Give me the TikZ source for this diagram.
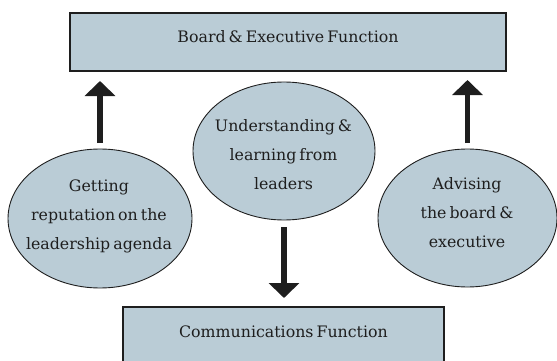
\documentclass[tikz,border=0pt]{standalone}
\usepackage{fontspec}
\setmainfont{DejaVu Serif}[WordSpace=0.6]
\usetikzlibrary{shapes.geometric,arrows.meta}
\definecolor{panel}{RGB}{186,204,214}
\definecolor{ink}{RGB}{30,30,30}
\begin{document}
\begin{tikzpicture}[x=1pt,y=-1pt,
  every node/.style={inner sep=0pt, outer sep=0pt},
  box/.style={rectangle, draw=ink, line width=1.3pt, fill=panel, text=ink,
    font=\fontsize{15.8}{29}\selectfont},
  bubble/.style={ellipse, draw=ink, line width=0.9pt, fill=panel},
  lbl/.style={align=center, text=ink, font=\fontsize{15.8}{29}\selectfont},
  bigarrow/.style={draw=ink, line width=5.5pt, -{Triangle[width=30pt,length=15pt]}}]
\useasboundingbox (0,0) rectangle (557,361);
\clip (0,0) rectangle (557,361);

% the two functions
\node[box, minimum width=436pt, minimum height=58pt, text height=12pt, text depth=10pt]
  (board) at (288,42) {Board \& Executive Function};
\node[box, minimum width=321pt, minimum height=70pt, text height=4pt, text depth=14pt]
  (comms) at (283.5,342) {Communications Function};

% the three roles
\node[bubble, minimum width=184pt, minimum height=139pt] (rep) at (100,218.5) {};
\node[bubble, minimum width=182pt, minimum height=138pt] (learn) at (284,151) {};
\node[bubble, minimum width=179pt, minimum height=138pt] (advise) at (467.5,218) {};

\node[lbl] (repText) at (99,216.5) {Getting\\reputation on the\\leadership agenda};
\node[lbl] (learnText) at (283.5,155) {Understanding \&\\learning from\\leaders};
\node[lbl] (adviseText) at (467,212.5) {Advising\\the board \&\\executive};

% flows between them
\draw[bigarrow, shorten <=6pt, shorten >=10pt] (rep.north) -- (rep.north |- board.south);
\draw[bigarrow, shorten <=6pt, shorten >=9pt] (advise.north) -- (advise.north |- board.south);
\draw[bigarrow, shorten <=7pt, shorten >=9pt] (learn.south) -- (learn.south |- comms.north);
\end{tikzpicture}
\end{document}
